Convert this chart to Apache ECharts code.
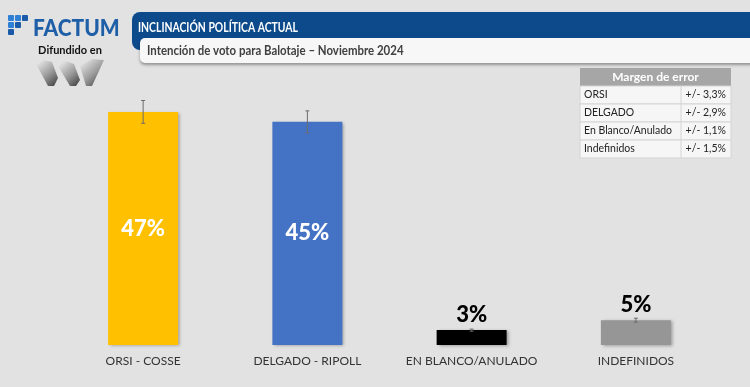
<!DOCTYPE html>
<html><head><meta charset="utf-8">
<script src="https://cdn.jsdelivr.net/npm/echarts@6/dist/echarts.min.js"></script>
<style>html,body{margin:0;padding:0;background:#e2e2e2;}#c{width:750px;height:387px;}</style>
</head><body><div id="c"></div>
<script>
const categories = ['ORSI - COSSE', 'DELGADO - RIPOLL', 'EN BLANCO/ANULADO', 'INDEFINIDOS'];
const values = [47, 45, 3, 5];
const errorHalf = [2.3, 2.2, 0.2, 0.4];
const barColors = ['#ffc000', '#4472c4', '#000000', '#969696'];
const marginRows = ['ORSI', 'DELGADO', 'En Blanco/Anulado', 'Indefinidos'];
const marginVals = ['+/- 3,3%', '+/- 2,9%', '+/- 1,1%', '+/- 1,5%'];
const title1 = 'INCLINACIÓN POLÍTICA ACTUAL';
const title2 = 'Intención de voto para Balotaje – Noviembre 2024';

const FONT = 'Lato';
const chart = echarts.init(document.getElementById('c'));

const graphics = [];
// header blue bar
graphics.push({type:'rect', shape:{x:132,y:12,width:640,height:38,r:[8,0,0,8]}, style:{fill:'#0d4a8c'}, z:1});
graphics.push({type:'text', x:138, y:28, scaleX:0.8, style:{text:title1, fill:'#fff', font:'bold 13px '+FONT, verticalAlign:'middle'}, z:5});
// white subtitle box
graphics.push({type:'rect', shape:{x:140,y:38,width:640,height:25,r:[5,0,0,5]}, style:{fill:'#f7f7f7', shadowBlur:3, shadowOffsetY:2, shadowColor:'rgba(0,0,0,0.35)'}, z:2});
graphics.push({type:'text', x:147, y:51, scaleX:0.88, style:{text:title2, fill:'#404040', font:'bold 13px '+FONT, verticalAlign:'middle'}, z:5});

// logo icon squares
const sq = [[8,15,'#2e7fd6'],[15,15,'#2e7fd6'],[22,15,'#1a5aa8'],[8,22,'#2e7fd6'],[15,22,'#1a5aa8'],[8,29,'#1a5aa8']];
sq.forEach(s => graphics.push({type:'rect', shape:{x:s[0],y:s[1],width:6,height:6,r:1}, style:{fill:s[2]}}));
graphics.push({type:'text', x:33, y:29, scaleX:0.95, style:{text:'FACTUM', fill:'#1f5fa8', font:'900 22px '+FONT, verticalAlign:'middle'}});
graphics.push({type:'text', x:70, y:50, style:{text:'Difundido en', fill:'#111', font:'bold 11px '+FONT, align:'center', verticalAlign:'middle'}});
const wGrad = () => new echarts.graphic.LinearGradient(0,0,1,1,[{offset:0,color:'#f4f4f4'},{offset:0.55,color:'#9a9a9a'},{offset:1,color:'#3a3a3a'}]);
graphics.push({type:'polygon', shape:{points:[[36,64],[44,60],[52,62],[58,78],[54,86],[48,86]]}, style:{fill:wGrad()}});
graphics.push({type:'polygon', shape:{points:[[58,66],[66,61],[74,64],[80,80],[76,86],[70,86]]}, style:{fill:wGrad()}});
graphics.push({type:'polygon', shape:{points:[[80,66],[92,59],[104,60],[92,86],[86,86]]}, style:{fill:wGrad()}});

// margin table
const tx = 580, tw = 151, ty = 68, hh = 18, rh = 18, cx = 681;
graphics.push({type:'rect', shape:{x:tx,y:ty,width:tw,height:hh}, style:{fill:'#a6a6a6'}});
graphics.push({type:'text', x:tx+tw/2, y:ty+hh/2, style:{text:'Margen de error', fill:'#fff', font:'bold 12px '+FONT, align:'center', verticalAlign:'middle'}});
marginRows.forEach((r,i) => {
  const y = ty+hh+i*rh;
  graphics.push({type:'rect', shape:{x:tx,y:y,width:tw,height:rh}, style:{fill:'#f6f6f6', stroke:'#d4d4d4', lineWidth:1}});
  graphics.push({type:'line', shape:{x1:cx,y1:y,x2:cx,y2:y+rh}, style:{stroke:'#d4d4d4', lineWidth:1}});
  graphics.push({type:'text', x:tx+4, y:y+rh/2, style:{text:r, fill:'#222', font:'10.5px '+FONT, verticalAlign:'middle'}});
  graphics.push({type:'text', x:tx+tw-5, y:y+rh/2, style:{text:marginVals[i], fill:'#222', font:'10.5px '+FONT, align:'right', verticalAlign:'middle'}});
});

chart.setOption({
  backgroundColor:'#e2e2e2',
  animation:false,
  grid:{left:61, right:32, top:97, bottom:42},
  xAxis:{type:'category', data:categories, axisLine:{show:false}, axisTick:{show:false},
    axisLabel:{interval:0, color:'#333', fontFamily:FONT, fontSize:12, margin:10}},
  yAxis:{type:'value', min:0, max:50, show:false, splitLine:{show:false}},
  series:[
    {type:'bar', barWidth:70,
     data:values.map((v,i)=>({value:v, itemStyle:{color:barColors[i]},
        label: i<2 ? {show:true, position:'inside', color:'#fff', fontSize:22, fontWeight:900, fontFamily:FONT, formatter:'{c}%'}
                   : {show:true, position:'top', distance:4, color:'#000', fontSize:22, fontWeight:900, fontFamily:FONT, formatter:'{c}%'}})),
     itemStyle:{shadowBlur:3, shadowOffsetX:2, shadowOffsetY:1, shadowColor:'rgba(0,0,0,0.3)'}
    },
    {type:'custom', z:10,
     data:values.map((v,i)=>[i, v-errorHalf[i], v+errorHalf[i]]),
     renderItem:function(params, api){
       const lo = api.coord([api.value(0), api.value(1)]);
       const hi = api.coord([api.value(0), api.value(2)]);
       const c = 2;
       return {type:'group', children:[
         {type:'line', shape:{x1:hi[0],y1:hi[1],x2:lo[0],y2:lo[1]}, style:{stroke:'#6b6b6b', lineWidth:1}},
         {type:'line', shape:{x1:hi[0]-c,y1:hi[1],x2:hi[0]+c,y2:hi[1]}, style:{stroke:'#6b6b6b', lineWidth:1}},
         {type:'line', shape:{x1:lo[0]-c,y1:lo[1],x2:lo[0]+c,y2:lo[1]}, style:{stroke:'#6b6b6b', lineWidth:1}}
       ]};
     }
    }
  ],
  graphic:graphics
});
</script></body></html>
